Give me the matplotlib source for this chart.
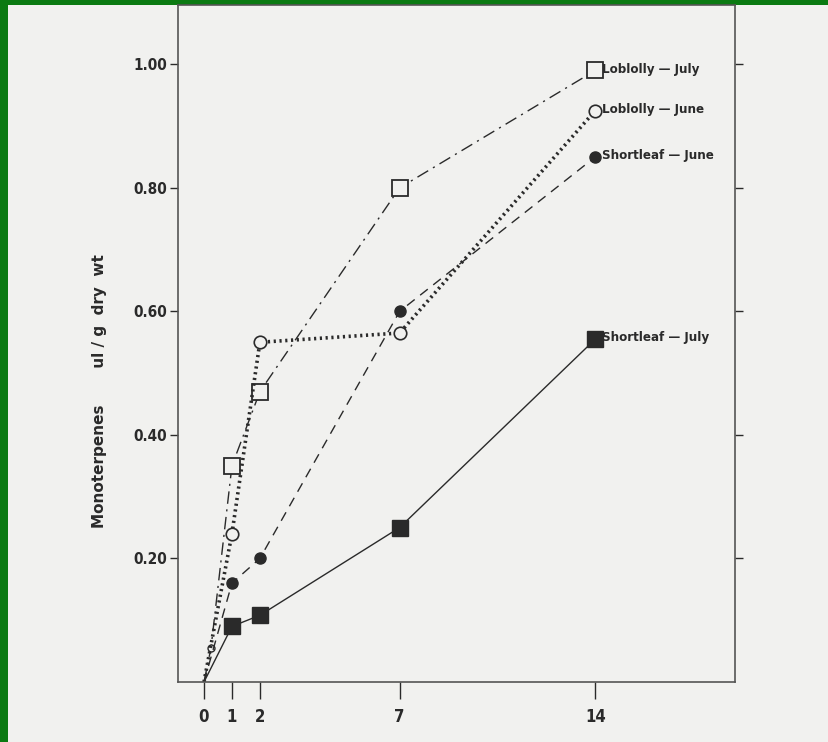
import matplotlib
matplotlib.use("Agg")
import matplotlib.pyplot as plt
from matplotlib.patches import Rectangle

# days after treatment
days_lob_july = [0, 0.25, 1, 2, 7, 14]
lob_july = [0.0, 0.055, 0.35, 0.47, 0.80, 0.99]

days = [0, 1, 2, 7, 14]
lob_june = [0.0, 0.24, 0.55, 0.565, 0.925]
short_june = [0.0, 0.16, 0.20, 0.60, 0.85]
short_july = [0.0, 0.09, 0.108, 0.25, 0.555]

x_ticks = [0, 1, 2, 7, 14]
y_ticks = [0.20, 0.40, 0.60, 0.80, 1.00]

INK = "#2a2a2a"
PAPER = "#f1f1ef"
GREEN = "#0b7a12"
FONT = ["Liberation Sans Narrow", "DejaVu Sans"]

fig = plt.figure(figsize=(8.29, 7.42), dpi=100)
fig.patch.set_facecolor(PAPER)
# green slide frame peeking in at the top and left edge
fig.add_artist(Rectangle((0, 1 - 5 / 742), 1, 5 / 742, transform=fig.transFigure,
                         facecolor=GREEN, edgecolor="none", zorder=-5))
fig.add_artist(Rectangle((0, 0), 8 / 829, 1, transform=fig.transFigure,
                         facecolor=GREEN, edgecolor="none", zorder=-5))

ax = fig.add_axes([178 / 829, 1 - 682 / 742, 557 / 829, 677 / 742])
ax.set_facecolor(PAPER)

# ── the four series ──
ax.plot(days_lob_july, lob_july, color=INK, lw=1.0, ls=(0, (9, 4, 1.5, 4)),
        marker="s", ms=11, mfc=PAPER, mec=INK, mew=1.3, markevery=[2, 3, 4, 5])
ax.plot(days_lob_july[1:2], lob_july[1:2], ls="none", marker="o", ms=5,
        mfc=PAPER, mec=INK, mew=1.0)
ax.plot(days, lob_june, color=INK, lw=2.6, ls=(0, (0.6, 1.0)),
        marker="o", ms=9, mfc=PAPER, mec=INK, mew=1.2, markevery=[1, 2, 3, 4])
ax.plot(days, short_june, color=INK, lw=1.0, ls=(0, (7, 5)),
        marker="o", ms=8, mfc=INK, mec=INK, markevery=[1, 2, 3, 4])
ax.plot(days, short_july, color=INK, lw=1.0, ls="-",
        marker="s", ms=11, mfc=INK, mec=INK, markevery=[1, 2, 3, 4])

# labels at the day-14 end of each curve
labels = ["Loblolly \u2014 July", "Loblolly \u2014 June", "Shortleaf \u2014 June", "Shortleaf \u2014 July"]
ends = [lob_july[-1], lob_june[-1], short_june[-1], short_july[-1]]
for lab, yv in zip(labels, ends):
    ax.annotate(lab, (14, yv), xytext=(5, 1), textcoords="offset points",
                va="center", ha="left", fontsize=9.5, fontweight="bold",
                fontstretch="condensed", family=FONT, color=INK)

ax.set_xlim(-0.93, 19.0)
ax.set_ylim(0, 1.096)
ax.set_xticks(x_ticks)
ax.set_xticklabels([str(v) for v in x_ticks])
ax.set_yticks(y_ticks)
ax.set_yticklabels([f"{v:.2f}" for v in y_ticks])

for s in ax.spines.values():
    s.set_color("#555555")
    s.set_linewidth(1.2)

ax.tick_params(axis="x", direction="out", length=12, width=1.0, colors=INK,
               labelsize=12, pad=7)
ax.tick_params(axis="y", direction="out", length=6, width=1.0, colors=INK,
               labelsize=11, right=True, pad=2)
for t in ax.get_xticklabels() + ax.get_yticklabels():
    t.set_fontweight("bold")
    t.set_fontstretch("condensed")
    t.set_family(FONT)

fig.text(100 / 829, 1 - 391 / 742, "Monoterpenes       ul / g  dry  wt", rotation=90,
         ha="center", va="center", fontsize=11, fontweight="bold", color=INK)

fig.savefig("out.png", dpi=100, facecolor=fig.get_facecolor())
